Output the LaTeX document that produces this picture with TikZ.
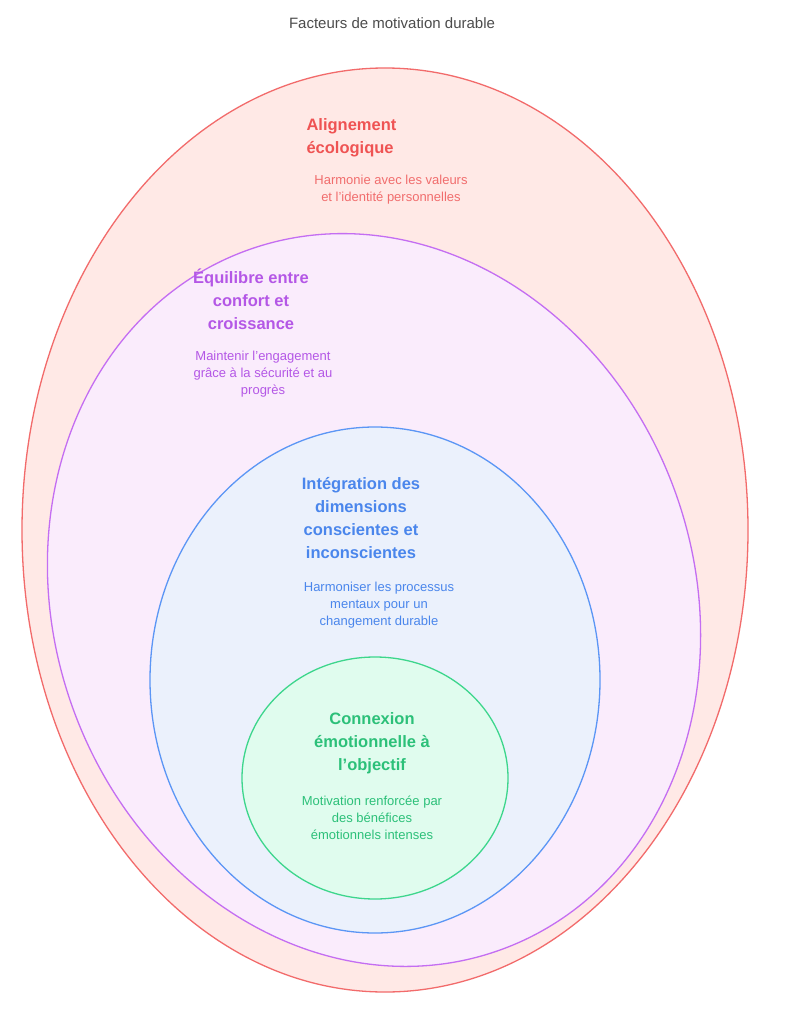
\documentclass[tikz,border=0pt]{standalone}
\usepackage{fontspec}
\setmainfont{Liberation Sans}
\definecolor{rS}{HTML}{F26B6B}\definecolor{rF}{HTML}{FFE9E6}\definecolor{rT}{HTML}{EF5353}
\definecolor{pS}{HTML}{C46EF2}\definecolor{pF}{HTML}{FAECFC}\definecolor{pT}{HTML}{B457E6}
\definecolor{bS}{HTML}{5B96F5}\definecolor{bF}{HTML}{EBF1FC}\definecolor{bT}{HTML}{4A86EC}
\definecolor{gS}{HTML}{3DD68C}\definecolor{gF}{HTML}{E0FCEE}\definecolor{gT}{HTML}{2CC079}
\begin{document}
\begin{tikzpicture}[x=1pt,y=-1pt,
 ttl/.style={font=\bfseries\fontsize{16.5}{23}\selectfont,align=center},
 dsc/.style={font=\fontsize{13}{17}\selectfont,align=center}]
\useasboundingbox[fill=white] (0,0) rectangle (784,1024);
\node[font=\fontsize{15}{18}\selectfont,text=black!70] (t) at (392,23) {Facteurs de motivation durable};
\draw[rS,fill=rF,line width=1.3pt] (385,530) ellipse [x radius=363,y radius=462];
\draw[pS,fill=pF,line width=1.3pt,rotate around={20:(374,600)}] (374,600) ellipse [x radius=320,y radius=372];
\draw[bS,fill=bF,line width=1.3pt] (375,680) ellipse [x radius=225,y radius=253];
\draw[gS,fill=gF,line width=1.3pt] (375,778) ellipse [x radius=133,y radius=121];
\node[ttl,align=left,text=rT,anchor=north west] (a) at (303,115) {Alignement\\écologique};
\node[dsc,text=rT!85] (ad) at (391,190) {Harmonie avec les valeurs\\et l'identité personnelles};
\node[ttl,text=pT] (p) at (251,299) {Équilibre entre\\confort et\\croissance};
\node[dsc,text=pT] (pd) at (263,374) {Maintenir l'engagement\\grâce à la sécurité et au\\progrès};
\node[ttl,text=bT] (b) at (361,518) {Intégration des\\dimensions\\conscientes et\\inconscientes};
\node[dsc,text=bT] (bd) at (379,605) {Harmoniser les processus\\mentaux pour un\\changement durable};
\node[ttl,text=gT] (g) at (372,743) {Connexion\\émotionnelle à\\l'objectif};
\node[dsc,text=gT] (gd) at (372,818) {Motivation renforcée par\\des bénéfices\\émotionnels intenses};
\end{tikzpicture}
\end{document}
